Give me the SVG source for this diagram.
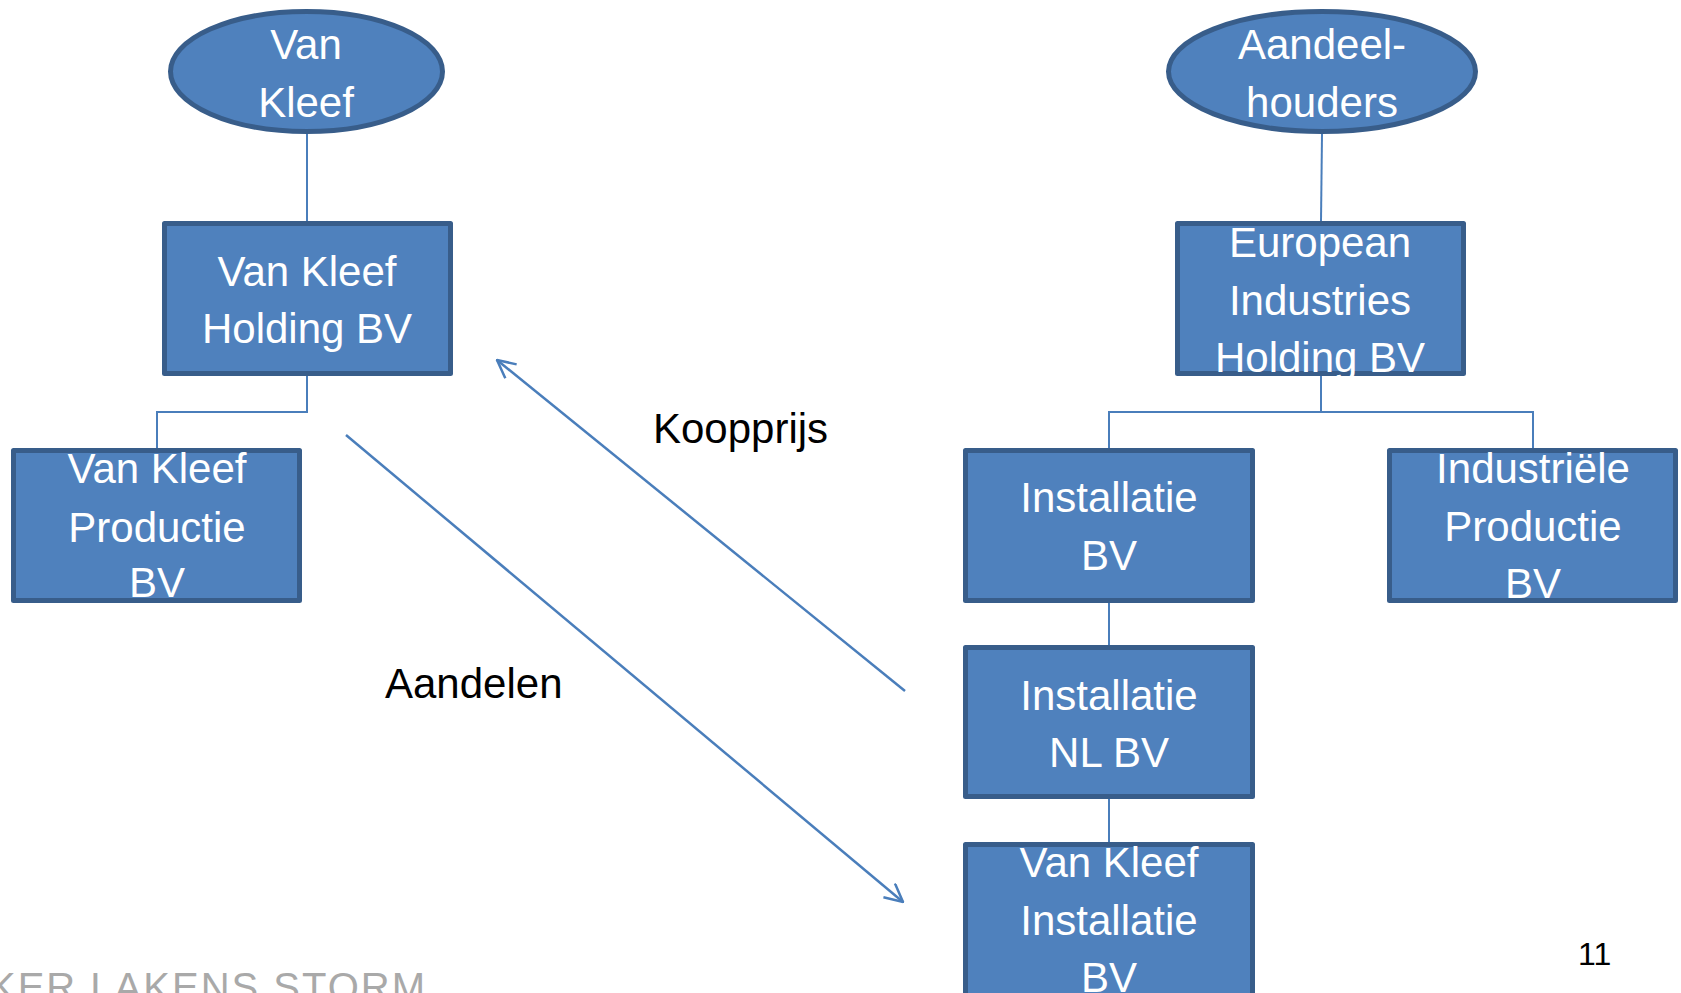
<svg xmlns="http://www.w3.org/2000/svg" width="1681" height="993" viewBox="0 0 1681 993">
<style>
.n{fill:#4F81BD;stroke:#385D8A;stroke-width:5;stroke-linejoin:round}
.t{font-family:"Liberation Sans",Arial,sans-serif;font-size:42px;fill:#FFFFFF;text-anchor:middle}
.c{fill:none;stroke:#4A7EBB;stroke-width:2}
.a{fill:none;stroke:#4A7EBB;stroke-width:2.5}
.l{font-family:"Liberation Sans",Arial,sans-serif;font-size:42px;fill:#000000}
</style>
<defs>
<marker id="open" viewBox="0 0 20 20" refX="19" refY="10" markerWidth="20" markerHeight="20" markerUnits="userSpaceOnUse" orient="auto">
<path d="M1,1 L19,10 L1,19" fill="none" stroke="#4A7EBB" stroke-width="2.5"/>
</marker>
</defs>
<rect width="1681" height="993" fill="#FFFFFF"/>
<g id="connectors">
<path class="c" d="M307,134 L307,221"/>
<path class="c" d="M307,376 L307,412 L157,412 L157,448"/>
<path class="c" d="M1322,134 L1321,221"/>
<path class="c" d="M1321,376 L1321,412"/>
<path class="c" d="M1109,448 L1109,412 L1533,412 L1533,448"/>
<path class="c" d="M1109,603 L1109,645"/>
<path class="c" d="M1109,799 L1109,842"/>
<path class="a" d="M905,691 L497,360" marker-end="url(#open)"/>
<path class="a" d="M346,435 L903,902" marker-end="url(#open)"/>
</g>
<g id="vankleef">
<ellipse class="n" cx="306.5" cy="71.5" rx="136" ry="60"/>
<text class="t" x="306" y="59">Van</text>
<text class="t" x="306" y="117">Kleef</text>
</g>
<g id="vankleef-holding">
<rect class="n" x="164.5" y="223.5" width="286" height="150"/>
<text class="t" x="307" y="286">Van Kleef</text>
<text class="t" x="307" y="343">Holding BV</text>
</g>
<g id="vankleef-productie">
<rect class="n" x="13.5" y="450.5" width="286" height="150"/>
<text class="t" x="157" y="483">Van Kleef</text>
<text class="t" x="157" y="542">Productie</text>
<text class="t" x="157" y="597">BV</text>
</g>
<g id="aandeelhouders">
<ellipse class="n" cx="1322" cy="71.5" rx="153.5" ry="60"/>
<text class="t" x="1322" y="59">Aandeel-</text>
<text class="t" x="1322" y="117">houders</text>
</g>
<g id="european-industries">
<rect class="n" x="1177.5" y="223.5" width="286" height="150"/>
<text class="t" x="1320" y="257">European</text>
<text class="t" x="1320" y="315">Industries</text>
<text class="t" x="1320" y="372">Holding BV</text>
</g>
<g id="installatie-bv">
<rect class="n" x="965.5" y="450.5" width="287" height="150"/>
<text class="t" x="1109" y="512">Installatie</text>
<text class="t" x="1109" y="570">BV</text>
</g>
<g id="industriele-productie">
<rect class="n" x="1389.5" y="450.5" width="286" height="150"/>
<text class="t" x="1533" y="483">Industriële</text>
<text class="t" x="1533" y="541">Productie</text>
<text class="t" x="1533" y="598">BV</text>
</g>
<g id="installatie-nl">
<rect class="n" x="965.5" y="647.5" width="287" height="149"/>
<text class="t" x="1109" y="710">Installatie</text>
<text class="t" x="1109" y="767">NL BV</text>
</g>
<g id="vankleef-installatie">
<rect class="n" x="965.5" y="844.5" width="287" height="200"/>
<text class="t" x="1109" y="877">Van Kleef</text>
<text class="t" x="1109" y="935">Installatie</text>
<text class="t" x="1109" y="992">BV</text>
</g>
<g id="labels">
<text class="l" x="653" y="443">Koopprijs</text>
<text class="l" x="385" y="698">Aandelen</text>
<text x="1578" y="965" font-family="Liberation Sans, Arial, sans-serif" font-size="32" fill="#000000">11</text>
<text x="-11" y="1001" font-family="Liberation Sans, Arial, sans-serif" font-size="40" letter-spacing="2" fill="#A9A9A9">KER LAKENS STORM</text>
</g>
</svg>
